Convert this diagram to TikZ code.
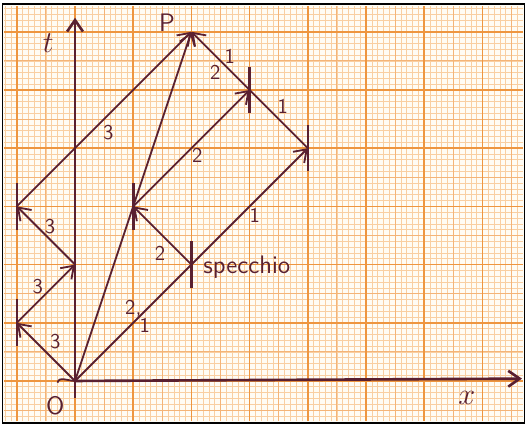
\documentclass[tikz,border=0pt]{standalone}
\usepackage{tikz}
\usetikzlibrary{arrows.meta}
\definecolor{ink}{HTML}{5A2030}
\definecolor{gridMinor}{HTML}{F9CFA2}
\definecolor{gridMid}{HTML}{F4B477}
\definecolor{gridMajor}{HTML}{EE9640}
\definecolor{paper}{HTML}{FFFCF4}

\begin{document}
\begin{tikzpicture}[x=1.164cm,y=1.164cm,font=\sffamily,>={Straight Barb[length=6.5pt,width=9pt]},
  ray/.style={->,ink,line width=1.05pt},
  tick/.style={ink,line width=1.5pt},
  num/.style={ink,font=\sffamily\large}]
\useasboundingbox (-1.289,-0.790) rectangle (7.766,6.546);
% graph paper
\fill[paper] (-1.25,-0.72) rectangle (7.72,6.48);
\draw[gridMinor,line width=0.35pt,step=0.1] (-1.22,-0.69) grid (7.69,6.45);
\draw[gridMid,line width=0.55pt,step=0.5] (-1.22,-0.69) grid (7.69,6.45);
\draw[gridMajor,line width=0.85pt,step=1] (-1.22,-0.69) grid (7.69,6.45);
\draw[black,line width=0.8pt] (-1.25,-0.72) rectangle (7.72,6.48);

% events
\coordinate (O) at (0,0);
\coordinate (a1) at (-1,1);
\coordinate (a2) at (0,2);
\coordinate (a3) at (-1,3);
\coordinate (P) at (2,6);
\coordinate (b1) at (2,2);
\coordinate (b2) at (1,3);
\coordinate (b3) at (3,5);
\coordinate (c1) at (4,4);
\coordinate (tbot) at (0,-0.29);
\coordinate (tend) at (0,6.24);
\coordinate (xbeg) at (-0.3,-0.03);
\coordinate (xend) at (7.68,0.04);

% axes
\draw[->,ink,line width=1.5pt] (tbot) -- (tend);
\draw[->,ink,line width=1.5pt] (O) -- (xend);
\draw[ink,line width=1pt] (xbeg) to[out=80,in=180] (O);

% mirror ticks
\foreach \e in {a1,a3,b1,b2,b3,c1}
  \draw[tick] (\e) ++(0,-0.4) -- ++(0,0.8);

% light signals
\draw[ray] (O) -- (a1);
\draw[ray] (a1) -- (a2);
\draw[ray] (a2) -- (a3);
\draw[ray] (a3) -- (P);
\draw[ray] (O) -- (P);
\draw[ink,line width=1.05pt] (O) -- (b1);
\draw[ray] (b1) -- (c1);
\draw[ray] (b1) -- (b2);
\draw[ray] (b2) -- (b3);
\draw[ink,line width=1.05pt] (c1) -- (b3);
\draw[ray] (b3) -- (P);

% labels
\node[ink,font=\LARGE] (tlab) at (-0.46,5.81) {$t$};
\node[ink,font=\sffamily\Large] (plab) at (1.58,6.16) {P};
\node[ink,font=\sffamily\Large] (olab) at (-0.34,-0.43) {O};
\node[ink,font=\LARGE] (xlab) at (6.73,-0.29) {$x$};
\node[ink,font=\sffamily\Large,anchor=west] (spec) at (2.1,1.95) {specchio};
\node[num] (n1) at (-0.34,0.67) {3};
\node[num] (n2) at (-0.64,1.62) {3};
\node[num] (n3) at (-0.43,2.65) {3};
\node[num] (n4) at (0.57,4.26) {3};
\node[num] (n5) at (1.0,1.25) {2,};
\node[num] (n6) at (1.2,0.95) {1};
\node[num] (n7) at (3.09,2.85) {1};
\node[num] (n8) at (1.46,2.2) {2};
\node[num] (n9) at (2.1,3.88) {2};
\node[num] (n10) at (2.41,5.31) {2};
\node[num] (n11) at (2.66,5.57) {1};
\node[num] (n12) at (3.57,4.72) {1};
\end{tikzpicture}
\end{document}
